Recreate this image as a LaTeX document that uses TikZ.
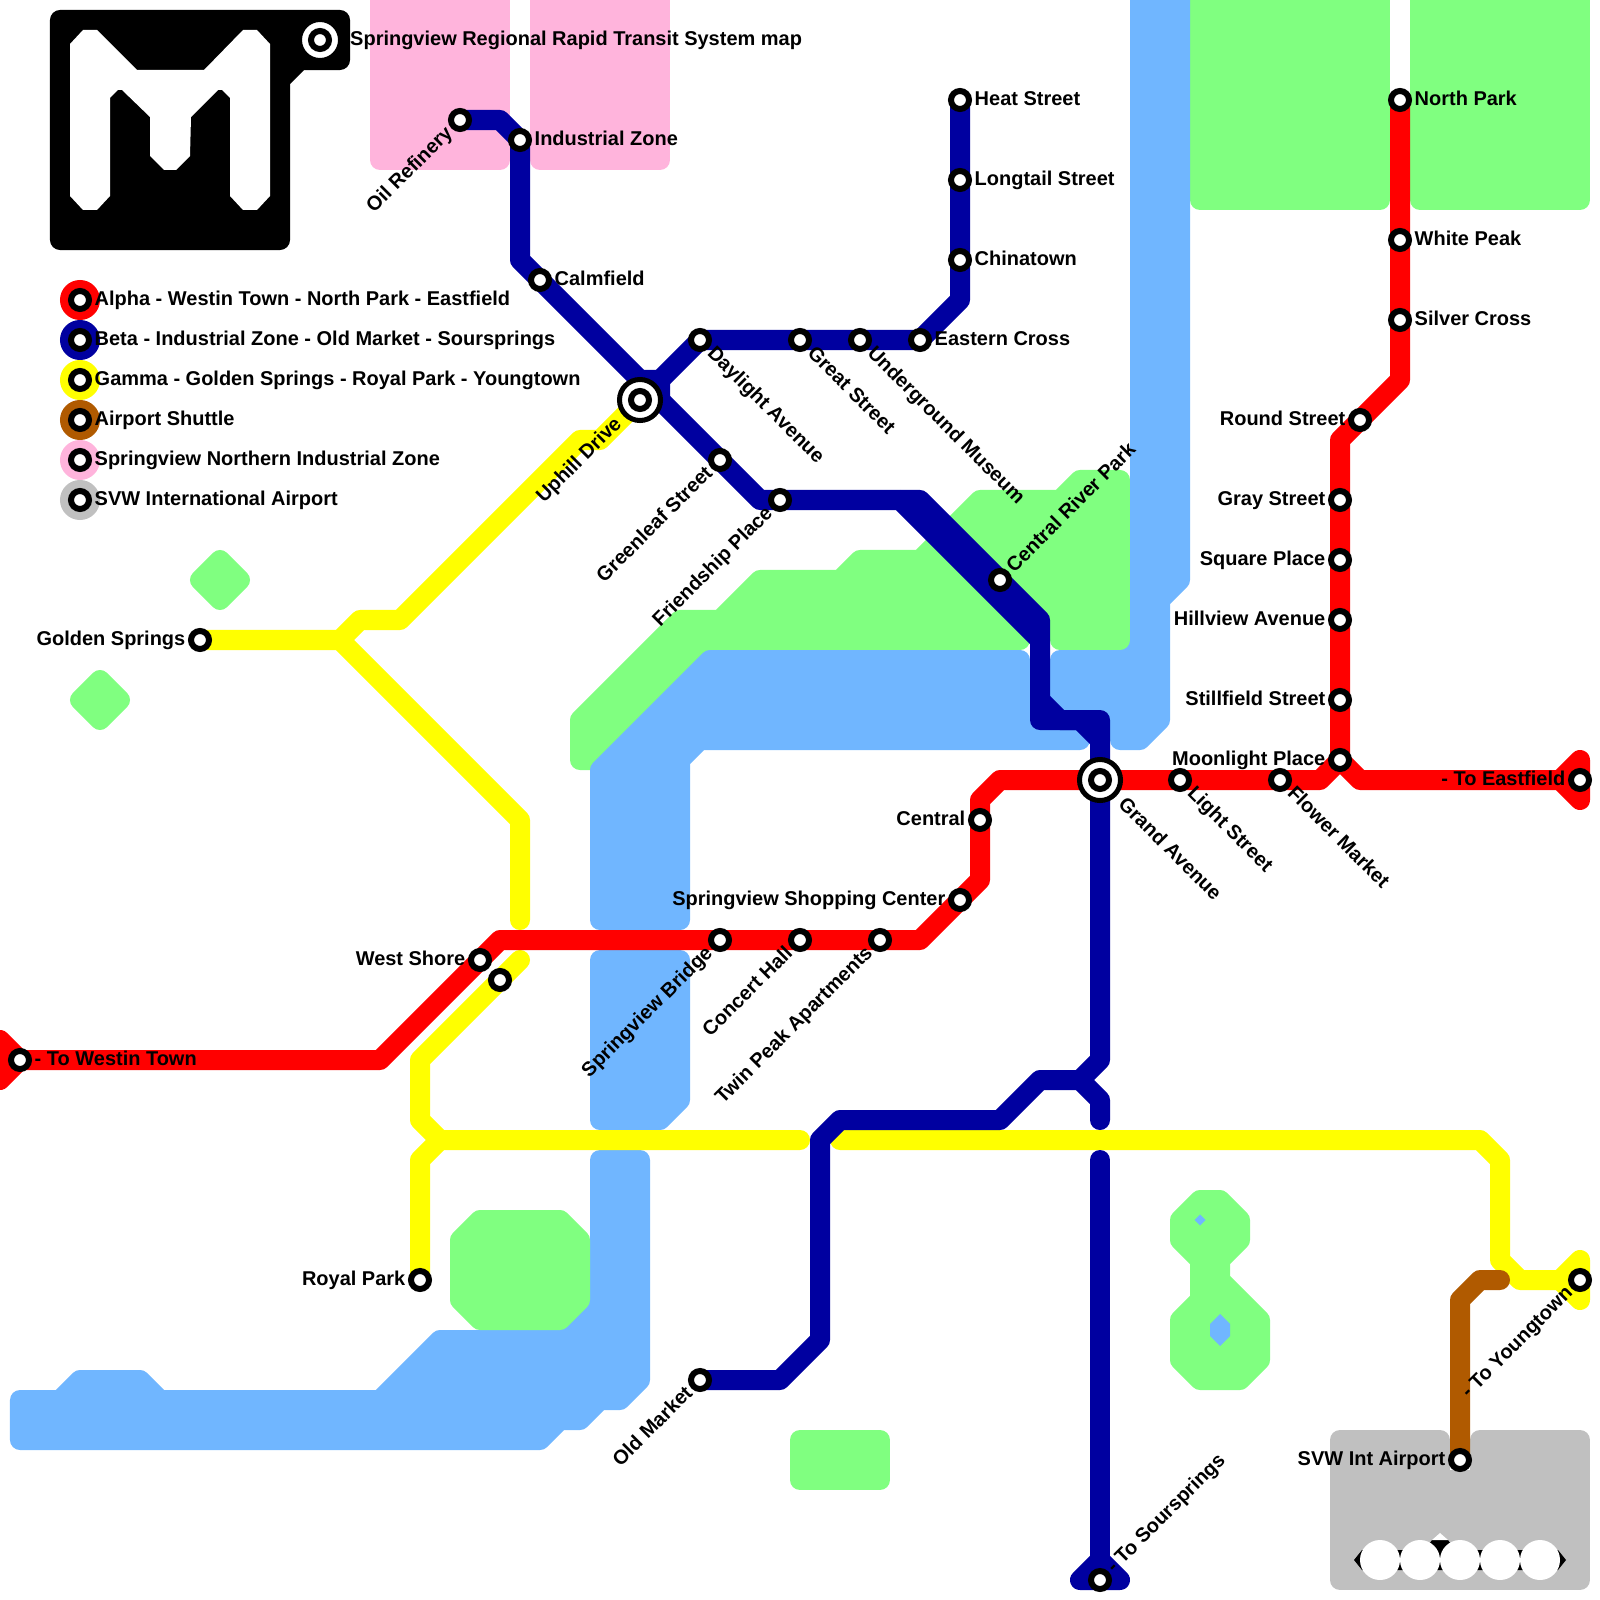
\documentclass[tikz,border=0pt]{standalone}
\usepackage{fontspec}
\setmainfont{Liberation Sans}
\usepackage{xcolor}
\usepackage{tikz}
\definecolor{alphared}{RGB}{255,0,0}
\definecolor{betablue}{RGB}{0,0,160}
\definecolor{gammayellow}{RGB}{255,255,0}
\definecolor{shuttlebrown}{RGB}{176,90,0}
\definecolor{zonepink}{RGB}{255,180,220}
\definecolor{airportgrey}{RGB}{192,192,192}
\definecolor{parkgreen}{RGB}{128,255,128}
\definecolor{waterblue}{RGB}{112,182,255}
\tikzstyle{railline} = [
    line width=2mm,
    line cap=round,
    line join=round
]
\tikzstyle{area} = [
    line width=2mm,
    line join=round
]
\tikzstyle{stn} = [
    circle,
    draw=black,
    fill=white,
    line width=0.6mm,
    minimum size=1.8mm,
    inner sep=0pt,
    outer sep=0pt
]
\tikzstyle{hub} = [
    circle,
    draw=black,
    fill=white,
    line width=0.5mm,
    minimum size=4.1mm,
    inner sep=0pt,
    outer sep=0.4mm
]
\tikzstyle{keydot} = [
    circle,
    minimum size=4mm,
    inner sep=0pt
]
\tikzstyle{lbl} = [
    inner xsep=0.5mm,
    inner ysep=0pt,
    text height=1.55mm,
    text depth=0.45mm,
    font=\bfseries\fontsize{5.68}{6.8}\selectfont
]

\begin{document}
\begin{tikzpicture}[x=0.01cm,y=-0.01cm]

\path[use as bounding box,clip] (0,0) rectangle (1600,1600);

\fill[waterblue] (1120,640) rectangle (1131,651);

\filldraw[parkgreen,area] (1200,-20) rectangle (1380,200);

\filldraw[parkgreen,area] (1420,-20) rectangle (1580,200);

\filldraw[parkgreen,area] (220,560) -- (240,580) -- (220,600) -- (200,580) -- cycle;

\filldraw[parkgreen,area] (100,680) -- (120,700) -- (100,720) -- (80,700) -- cycle;

\filldraw[parkgreen,area] (580,720) -- (680,620) -- (720,620) -- (760,580) -- (840,580) -- (860,560) -- (920,560) -- (980,500) -- (1060,500) -- (1080,480) -- (1120,480) -- (1120,640) -- (1060,640) -- (1060,620) -- (1020,620) -- (1020,640) -- (720,640) -- (600,760) -- (580,760) -- cycle;

\filldraw[parkgreen,area] (800,1440) rectangle (880,1480);

\filldraw[parkgreen,area] (1180,1220) -- (1200,1200) -- (1220,1200) -- (1240,1220) -- (1240,1240) -- (1220,1260) -- (1220,1280) -- (1260,1320) -- (1260,1360) -- (1240,1380) -- (1200,1380) -- (1180,1360) -- (1180,1320) -- (1200,1300) -- (1200,1260) -- (1180,1240) -- cycle;

\filldraw[zonepink,area] (380,-20) rectangle (500,160);

\filldraw[zonepink,area] (540,-20) rectangle (660,160);

\filldraw[airportgrey,area] (1340,1440) -- (1440,1440) -- (1440,1480) -- (1480,1480) -- (1480,1440) -- (1580,1440) -- (1580,1580) -- (1340,1580) -- cycle;

\filldraw[waterblue,area] (1140,-20) -- (1180,-20) -- (1180,580) -- (1160,600) -- (1160,720) -- (1140,740) -- (1120,740) -- (1120,720) -- (1080,720) -- (1080,740) -- (700,740) -- (680,760) -- (680,920) -- (600,920) -- (600,770) -- (710,660) -- (1020,660) -- (1020,700) -- (1060,700) -- (1060,660) -- (1140,660) -- cycle;

\filldraw[waterblue,area] (600,960) -- (680,960) -- (680,1100) -- (660,1120) -- (600,1120) -- cycle;

\filldraw[waterblue,area] (600,1160) -- (640,1160) -- (640,1380) -- (620,1400) -- (600,1400) -- (580,1420) -- (560,1420) -- (540,1440) -- (20,1440) -- (20,1400) -- (60,1400) -- (80,1380) -- (140,1380) -- (160,1400) -- (380,1400) -- (440,1340) -- (560,1340) -- (600,1300) -- cycle;

\filldraw[parkgreen,area] (460,1240) -- (480,1220) -- (560,1220) -- (580,1240) -- (580,1300) -- (560,1320) -- (480,1320) -- (460,1300) -- cycle;

\fill[waterblue] (1200,1214.5) -- (1205.5,1220) -- (1200,1225.5) -- (1194.5,1220) -- cycle;

\fill[waterblue] (1220,1314) -- (1230,1324) -- (1230,1336) -- (1220,1346) -- (1210,1336) -- (1210,1324) -- cycle;

\fill[black] (1354,1560) -- (1362,1550) -- (1425,1550) -- (1432,1540) -- (1448,1540) -- (1455,1550) -- (1558,1550) -- (1566,1560) -- (1558,1570) -- (1362,1570) -- cycle;

\fill[white] (1432,1540) -- (1440,1533) -- (1448,1540) -- cycle;

\fill[white] (1380,1560) circle (20);

\fill[white] (1420,1560) circle (20);

\fill[white] (1460,1560) circle (20);

\fill[white] (1500,1560) circle (20);

\fill[white] (1540,1560) circle (20);

\filldraw[black,area] (60,20) -- (340,20) -- (340,60) -- (300,60) -- (280,80) -- (280,240) -- (60,240) -- cycle;

\fill[white] (70,44) -- (83,30) -- (97,30) -- (137,70) -- (204,70) -- (243,30) -- (257,30) -- (270,44) -- (270,196) -- (257,210) -- (243,210) -- (230,196) -- (230,98) -- (222,90) -- (218,90) -- (191,117) -- (190,156) -- (176,170) -- (164,170) -- (150,156) -- (150,117) -- (122,90) -- (118,90) -- (110,98) -- (110,196) -- (97,210) -- (83,210) -- (70,196) -- cycle;

\draw[railline,gammayellow] (200,640) -- (340,640) -- (360,620) -- (400,620) -- (580,440) -- (600,440) -- (640,400);

\draw[railline,gammayellow] (340,640) -- (520,820) -- (520,920);

\draw[railline,gammayellow] (520,960) -- (420,1060) -- (420,1120) -- (440,1140) -- (800,1140);

\draw[railline,gammayellow] (420,1280) -- (420,1160) -- (440,1140);

\draw[railline,gammayellow] (840,1140) -- (1480,1140) -- (1500,1160) -- (1500,1260) -- (1520,1280) -- (1560,1280);

\draw[railline,gammayellow,fill=gammayellow] (1560,1280) -- (1580,1260) -- (1580,1300) -- cycle;

\draw[railline,shuttlebrown] (1460,1460) -- (1460,1300) -- (1480,1280) -- (1500,1280);

\draw[railline,alphared,fill=alphared] (20,1060) -- (0,1040) -- (0,1080) -- cycle;

\draw[railline,alphared] (20,1060) -- (380,1060) -- (500,940) -- (920,940) -- (980,880) -- (980,800) -- (1000,780) -- (1320,780) -- (1340,760) -- (1340,440) -- (1400,380) -- (1400,100);

\draw[railline,alphared] (1340,760) -- (1360,780) -- (1560,780);

\draw[railline,alphared,fill=alphared] (1560,780) -- (1580,760) -- (1580,800) -- cycle;

\draw[railline,betablue] (460,120) -- (500,120) -- (520,140) -- (520,260) -- (760,500) -- (900,500) -- (1040,640);

\draw[railline,betablue] (660,380) -- (700,340) -- (920,340) -- (960,300) -- (960,100);

\draw[railline,betablue,fill=betablue] (660,380) -- (640,380) -- (660,400) -- cycle;

\draw[railline,betablue] (900,500) -- (920,500) -- (1040,620) -- (1040,720) -- (1080,720) -- (1100,740) -- (1100,1060) -- (1080,1080) -- (1040,1080) -- (1000,1120) -- (840,1120) -- (820,1140) -- (820,1340) -- (780,1380) -- (700,1380);

\draw[railline,betablue] (1040,700) -- (1060,720) -- (1100,720) -- (1100,740);

\draw[railline,betablue] (1080,1080) -- (1100,1100) -- (1100,1120);

\draw[railline,betablue] (1100,1160) -- (1100,1560);

\draw[railline,betablue,fill=betablue] (1100,1560) -- (1080,1580) -- (1120,1580) -- cycle;

\node[hub] (titlehub) at (320,40) {};
\node[stn] (titlestn) at (titlehub) {};
\node[hub] (drivehub) at (640,400) {};
\node[stn] (drivestn) at (drivehub) {};
\node[hub] (grandhub) at (1100,780) {};
\node[stn] (grandstn) at (grandhub) {};

\node[stn] (oilrefinery) at (460,120) {};
\node[stn] (industrialzone) at (520,140) {};
\node[stn] (calmfield) at (540,280) {};
\node[stn] (greenleaf) at (720,460) {};
\node[stn] (friendship) at (780,500) {};
\node[stn] (centralriver) at (1000,580) {};
\node[stn] (daylight) at (700,340) {};
\node[stn] (greatstreet) at (800,340) {};
\node[stn] (underground) at (860,340) {};
\node[stn] (easterncross) at (920,340) {};
\node[stn] (chinatown) at (960,260) {};
\node[stn] (longtail) at (960,180) {};
\node[stn] (heatstreet) at (960,100) {};
\node[stn] (oldmarket) at (700,1380) {};
\node[stn] (soursprings) at (1100,1580) {};

\node[stn] (westin) at (20,1060) {};
\node[stn] (westshore) at (480,960) {};
\node[stn] (bridge) at (720,940) {};
\node[stn] (concerthall) at (800,940) {};
\node[stn] (twinpeak) at (880,940) {};
\node[stn] (shopping) at (960,900) {};
\node[stn] (central) at (980,820) {};
\node[stn] (lightstreet) at (1180,780) {};
\node[stn] (flowermarket) at (1280,780) {};
\node[stn] (eastfield) at (1580,780) {};
\node[stn] (moonlight) at (1340,760) {};
\node[stn] (stillfield) at (1340,700) {};
\node[stn] (hillview) at (1340,620) {};
\node[stn] (squareplace) at (1340,560) {};
\node[stn] (graystreet) at (1340,500) {};
\node[stn] (roundstreet) at (1360,420) {};
\node[stn] (silvercross) at (1400,320) {};
\node[stn] (whitepeak) at (1400,240) {};
\node[stn] (northpark) at (1400,100) {};

\node[stn] (goldensprings) at (200,640) {};
\node[stn] (shorelink) at (500,980) {};
\node[stn] (royalpark) at (420,1280) {};
\node[stn] (youngtown) at (1580,1280) {};
\node[stn] (intairport) at (1460,1460) {};

\node[keydot,fill=alphared] (keya) at (80,300) {};
\node[keydot,fill=betablue] (keyb) at (80,340) {};
\node[keydot,fill=gammayellow] (keyc) at (80,380) {};
\node[keydot,fill=shuttlebrown] (keyd) at (80,420) {};
\node[keydot,fill=zonepink] (keye) at (80,460) {};
\node[keydot,fill=airportgrey] (keyf) at (80,500) {};
\node[stn] (stna) at (keya) {};
\node[stn] (stnb) at (keyb) {};
\node[stn] (stnc) at (keyc) {};
\node[stn] (stnd) at (keyd) {};
\node[stn] (stne) at (keye) {};
\node[stn] (stnf) at (keyf) {};

\node[lbl,anchor=west] (lbla) at (stna.east) {Alpha - Westin Town - North Park - Eastfield};
\node[lbl,anchor=west] (lblb) at (stnb.east) {Beta - Industrial Zone - Old Market - Soursprings};
\node[lbl,anchor=west] (lblc) at (stnc.east) {Gamma - Golden Springs - Royal Park - Youngtown};
\node[lbl,anchor=west] (lbld) at (stnd.east) {Airport Shuttle};
\node[lbl,anchor=west] (lble) at (stne.east) {Springview Northern Industrial Zone};
\node[lbl,anchor=west] (lblf) at (stnf.east) {SVW International Airport};

\node[lbl,anchor=west] (lbltitle) at (titlehub.east) {Springview Regional Rapid Transit System map};

\node[lbl,anchor=west] (lblindustrial) at (industrialzone.east) {Industrial Zone};
\node[lbl,anchor=west] (lblcalmfield) at (calmfield.east) {Calmfield};
\node[lbl,anchor=west] (lbleastern) at (easterncross.east) {Eastern Cross};
\node[lbl,anchor=west] (lblchinatown) at (chinatown.east) {Chinatown};
\node[lbl,anchor=west] (lbllongtail) at (longtail.east) {Longtail Street};
\node[lbl,anchor=west] (lblheat) at (heatstreet.east) {Heat Street};
\node[lbl,anchor=west] (lblwestin) at (westin.east) {- To Westin Town};
\node[lbl,anchor=west] (lblsilver) at (silvercross.east) {Silver Cross};
\node[lbl,anchor=west] (lblwhite) at (whitepeak.east) {White Peak};
\node[lbl,anchor=west] (lblnorth) at (northpark.east) {North Park};

\node[lbl,anchor=east] (lblgolden) at (goldensprings.west) {Golden Springs};
\node[lbl,anchor=east] (lblroyal) at (royalpark.west) {Royal Park};
\node[lbl,anchor=east] (lblwestshore) at (westshore.west) {West Shore};
\node[lbl,anchor=east] (lblshopping) at (shopping.west) {Springview Shopping Center};
\node[lbl,anchor=east] (lblcentral) at (central.west) {Central};
\node[lbl,anchor=east] (lbleastfield) at (eastfield.west) {- To Eastfield};
\node[lbl,anchor=east] (lblmoonlight) at (moonlight.west) {Moonlight Place};
\node[lbl,anchor=east] (lblstillfield) at (stillfield.west) {Stillfield Street};
\node[lbl,anchor=east] (lblhillview) at (hillview.west) {Hillview Avenue};
\node[lbl,anchor=east] (lblsquare) at (squareplace.west) {Square Place};
\node[lbl,anchor=east] (lblgray) at (graystreet.west) {Gray Street};
\node[lbl,anchor=east] (lblround) at (roundstreet.west) {Round Street};
\node[lbl,anchor=east] (lblairport) at (intairport.west) {SVW Int Airport};

\node[lbl,anchor=east,rotate=45] (lbloil) at (oilrefinery.225) {Oil Refinery};
\node[lbl,anchor=east,rotate=45] (lbldrive) at (drivehub.225) {Uphill Drive};
\node[lbl,anchor=east,rotate=45] (lblgreenleaf) at (greenleaf.225) {Greenleaf Street};
\node[lbl,anchor=east,rotate=45] (lblfriendship) at (friendship.225) {Friendship Place};
\node[lbl,anchor=east,rotate=45] (lblbridge) at (bridge.225) {Springview Bridge};
\node[lbl,anchor=east,rotate=45] (lblconcert) at (concerthall.225) {Concert Hall};
\node[lbl,anchor=east,rotate=45] (lbltwin) at (twinpeak.225) {Twin Peak Apartments};
\node[lbl,anchor=east,rotate=45] (lblold) at (oldmarket.225) {Old Market};
\node[lbl,anchor=east,rotate=45] (lblyoung) at (youngtown.225) {- To Youngtown};

\node[lbl,anchor=west,rotate=45] (lblriver) at (centralriver.45) {Central River Park};
\node[lbl,anchor=west,rotate=45] (lblsour) at (soursprings.45) {- To Soursprings};

\node[lbl,anchor=west,rotate=-45] (lbldaylight) at (daylight.-45) {Daylight Avenue};
\node[lbl,anchor=west,rotate=-45] (lblgreat) at (greatstreet.-45) {Great Street};
\node[lbl,anchor=west,rotate=-45] (lblunder) at (underground.-45) {Underground Museum};
\node[lbl,anchor=west,rotate=-45] (lblgrand) at (grandhub.-45) {Grand Avenue};
\node[lbl,anchor=west,rotate=-45] (lbllight) at (lightstreet.-45) {Light Street};
\node[lbl,anchor=west,rotate=-45] (lblflower) at (flowermarket.-45) {Flower Market};

\end{tikzpicture}
\end{document}
